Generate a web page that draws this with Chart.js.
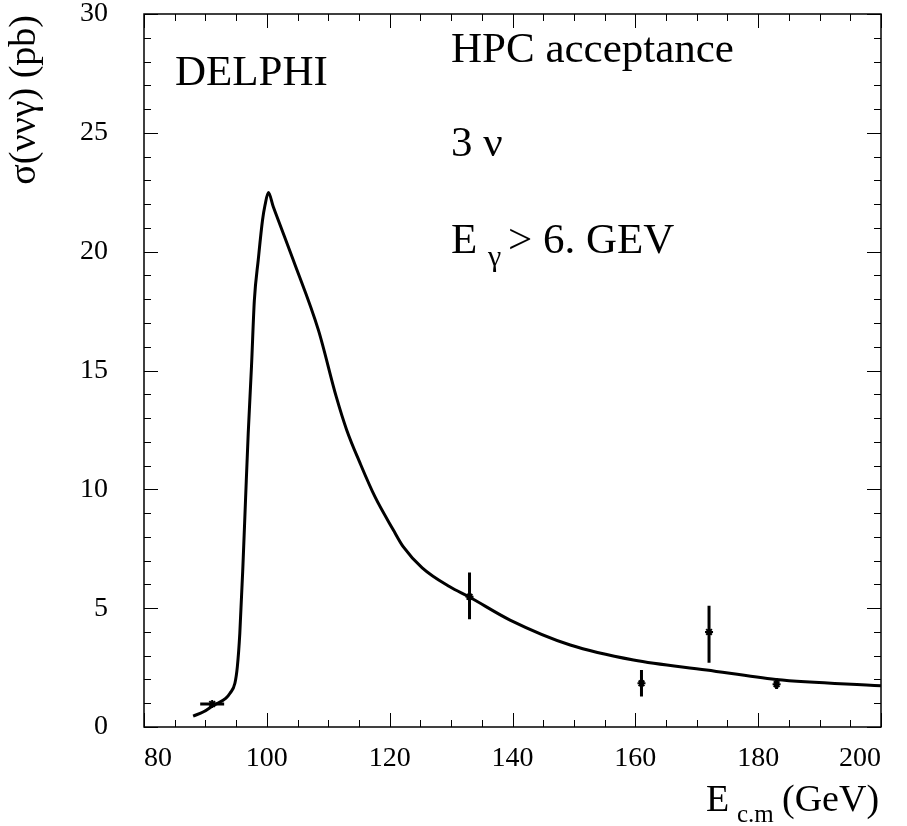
<!DOCTYPE html>
<html>
<head>
<meta charset="utf-8">
<script src="https://cdn.jsdelivr.net/npm/chart.js@4.4.1/dist/chart.umd.min.js"></script>
<style>
  html, body { margin: 0; padding: 0; background: #fff; }
  #wrap { position: relative; width: 907px; height: 826px; }
</style>
</head>
<body>
<div id="wrap"><canvas id="c" width="907" height="826"></canvas></div>
<script>
// theory curve
const curveE = [88.0, 89.7, 91.3, 93.3, 94.0, 94.8, 95.2, 95.6, 96.1, 96.53, 96.97, 97.5, 97.97, 98.6, 99.3, 99.7,
  100.25, 101.05, 101.9, 104.3, 108.4, 111.3, 113.0, 115.2, 117.6, 120.6, 122.2, 125.3, 129.8, 132.9,
  139.6, 149.4, 159.7, 171.6, 182.9, 200.0];
const curveSigma = [0.46, 0.64, 0.91, 1.2, 1.42, 1.84, 2.54, 3.94, 6.74, 9.55, 12.36, 15.16, 17.96, 19.65, 21.33, 21.95,
  22.49, 21.89, 21.3, 19.65, 16.7, 13.9, 12.5, 11.09, 9.69, 8.29, 7.59, 6.7, 5.9, 5.48,
  4.5, 3.45, 2.82, 2.4, 2.0, 1.74];

// measured points
const pointE = [91.1, 133, 161, 172, 183];
const pointSigma = [0.97, 5.48, 1.84, 4.0, 1.8];
const errLow = [0, 0.95, 0.56, 1.3, 0.2];
const errHigh = [0, 1.02, 0.56, 1.1, 0.25];
const errE = [1.95, 0, 0, 0, 0];

const xTicks = [80, 100, 120, 140, 160, 180, 200];
const yTicks = [0, 5, 10, 15, 20, 25, 30];

const SERIF = "'Liberation Serif', 'DejaVu Serif', serif";

// frame + inward ticks on all four sides
const framePlugin = {
  id: "frame",
  afterDatasetsDraw(chart) {
    const { ctx, chartArea: a, scales } = chart;
    const x = scales.x, y = scales.y;
    ctx.save();
    ctx.strokeStyle = "#000";
    ctx.lineWidth = 1.5;
    ctx.strokeRect(a.left, a.top, a.right - a.left, a.bottom - a.top);
    ctx.lineWidth = 1;
    ctx.beginPath();
    for (let v = 80; v <= 200; v += 5) {
      const px = Math.round(x.getPixelForValue(v)) + 0.5;
      const len = v % 20 === 0 ? 14 : 7;
      ctx.moveTo(px, a.bottom); ctx.lineTo(px, a.bottom - len);
      ctx.moveTo(px, a.top); ctx.lineTo(px, a.top + len);
    }
    for (let v = 0; v <= 30; v += 1) {
      const py = Math.round(y.getPixelForValue(v)) + 0.5;
      const len = v % 5 === 0 ? 14 : 7;
      ctx.moveTo(a.left, py); ctx.lineTo(a.left + len, py);
      ctx.moveTo(a.right, py); ctx.lineTo(a.right - len, py);
    }
    ctx.stroke();
    ctx.restore();
  }
};

// error bars from the point arrays
const errorBars = {
  id: "errorBars",
  afterDatasetsDraw(chart) {
    const { ctx, scales } = chart;
    ctx.save();
    ctx.strokeStyle = "#000";
    ctx.lineWidth = 3;
    ctx.beginPath();
    pointE.forEach((e, i) => {
      const px = scales.x.getPixelForValue(e);
      const py = scales.y.getPixelForValue(pointSigma[i]);
      if (errLow[i] || errHigh[i]) {
        ctx.moveTo(px, scales.y.getPixelForValue(pointSigma[i] - errLow[i]));
        ctx.lineTo(px, scales.y.getPixelForValue(pointSigma[i] + errHigh[i]));
      }
      if (errE[i]) {
        ctx.moveTo(scales.x.getPixelForValue(e - errE[i]), py);
        ctx.lineTo(scales.x.getPixelForValue(e + errE[i]), py);
      }
    });
    ctx.stroke();
    ctx.restore();
  }
};

// annotation texts and axis titles (they need subscripts)
const texts = {
  id: "texts",
  afterDraw(chart) {
    const ctx = chart.ctx;
    ctx.save();
    ctx.fillStyle = "#000";
    ctx.textBaseline = "alphabetic";
    ctx.textAlign = "left";
    ctx.font = "43px " + SERIF;
    ctx.fillText("DELPHI", 175, 85);
    ctx.fillText("HPC acceptance", 451, 62);
    ctx.fillText("3 \u03bd", 451, 156);
    ctx.fillText("E", 451, 253);
    ctx.fillText("> 6. GEV", 508, 253);
    ctx.font = "30px " + SERIF;
    ctx.fillText("\u03b3", 488, 266);

    // x title
    ctx.font = "38px " + SERIF;
    ctx.fillText("E", 706, 811);
    ctx.fillText("(GeV)", 782, 811);
    ctx.font = "25px " + SERIF;
    ctx.fillText("c.m", 737, 822);

    // y title
    ctx.translate(35, 15);
    ctx.rotate(-Math.PI / 2);
    ctx.textAlign = "right";
    ctx.font = "38px " + SERIF;
    ctx.fillText("\u03c3(\u03bd\u03bd\u03b3) (pb)", 0, 0);
    ctx.restore();
  }
};

new Chart(document.getElementById("c"), {
  type: "scatter",
  data: {
    datasets: [
      {
        data: curveE.map((e, i) => ({ x: e, y: curveSigma[i] })),
        showLine: true,
        borderColor: "#000",
        borderWidth: 3,
        pointRadius: 0,
        cubicInterpolationMode: "monotone"
      },
      {
        data: pointE.map((e, i) => ({ x: e, y: pointSigma[i] })),
        pointStyle: "star",
        pointRadius: 4,
        borderColor: "#000",
        backgroundColor: "#000",
        borderWidth: 2
      }
    ]
  },
  options: {
    responsive: false,
    animation: false,
    layout: { autoPadding: false, padding: { top: 14, right: 26, left: 0, bottom: 0 } },
    plugins: { legend: { display: false }, tooltip: { enabled: false } },
    scales: {
      x: {
        type: "linear",
        min: 80, max: 200,
        afterFit(s) { s.height = 99; s.paddingLeft = 0; s.paddingRight = 0; },
        afterBuildTicks(s) { s.ticks = xTicks.map(v => ({ value: v })); },
        grid: { display: false, drawTicks: false },
        border: { display: false },
        ticks: { color: "#000", padding: 15, align: "inner", maxRotation: 0, font: { family: SERIF, size: 28 } }
      },
      y: {
        type: "linear",
        min: 0, max: 30,
        afterFit(s) { s.width = 144; s.paddingTop = 0; s.paddingBottom = 0; },
        afterBuildTicks(s) { s.ticks = yTicks.map(v => ({ value: v })); },
        grid: { display: false, drawTicks: false },
        border: { display: false },
        ticks: { color: "#000", padding: 36, font: { family: SERIF, size: 28 } }
      }
    }
  },
  plugins: [framePlugin, errorBars, texts]
});
</script>
</body>
</html>
